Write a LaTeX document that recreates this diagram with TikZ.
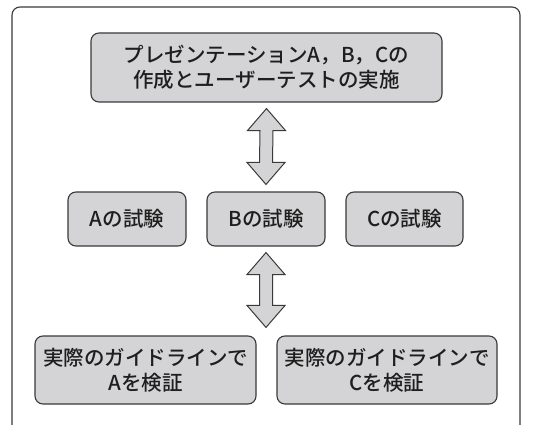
\documentclass[tikz,border=0pt]{standalone}
\usepackage{fontspec}
\setmainfont{Noto Sans CJK JP}[UprightFont={* Medium}]
\usetikzlibrary{calc}
\definecolor{boxfill}{HTML}{D4D4D6}
\definecolor{boxline}{HTML}{3A3A3A}
\definecolor{txt}{HTML}{1E1E1E}
\newcommand\blockarrow[2]{%
  \draw[arrowstyle] (#1) -- ($(#1)+(19,22)$) -- ($(#1)+(6.5,22)$) -- ($(#2)+(6.5,-22)$) -- ($(#2)+(19,-22)$) -- (#2) -- ($(#2)+(-19,-22)$) -- ($(#2)+(-6.5,-22)$) -- ($(#1)+(-6.5,22)$) -- ($(#1)+(-19,22)$) -- cycle;}
\begin{document}
\begin{tikzpicture}[x=1pt,y=-1pt,
  box/.style={draw=boxline, line width=1.1pt, fill=boxfill, rounded corners=8pt,
    text=txt, align=center, inner sep=0pt, font=\fontsize{20.5}{25}\selectfont},
  arrowstyle/.style={draw=boxline, line width=1pt, fill=boxfill, line join=miter}]
\useasboundingbox (0,0) rectangle (541,425);
\fill[white] (0,0) rectangle (541,425);
\draw[boxline, line width=1.1pt, rounded corners=8pt] (12,425) -- (12,7) -- (520,7) -- (520,425);
\node[box, minimum width=351pt, minimum height=69pt] (top) at (266.5,67.5) {プレゼンテーションA，B，Cの\\作成とユーザーテストの実施};
\node[box, minimum width=118pt, minimum height=54pt] (A) at (127,219) {Aの試験};
\node[box, minimum width=118pt, minimum height=54pt] (B) at (266,219) {Bの試験};
\node[box, minimum width=117pt, minimum height=54pt] (C) at (404.5,219) {Cの試験};
\node[box, minimum width=221pt, minimum height=68pt] (bl) at (145.5,370) {実際のガイドラインで\\Aを検証};
\node[box, minimum width=220pt, minimum height=68pt] (br) at (387,370) {実際のガイドラインで\\Cを検証};
\coordinate (a1t) at ($(top.south)+(0,6)$);
\coordinate (a1b) at ($(B.north)+(0,-7)$);
\coordinate (a2t) at ($(B.south)+(0,6)$);
\coordinate (a2b) at ($(B.south |- bl.north)+(0,-8)$);
\blockarrow{a1t}{a1b}
\blockarrow{a2t}{a2b}
\end{tikzpicture}
\end{document}
